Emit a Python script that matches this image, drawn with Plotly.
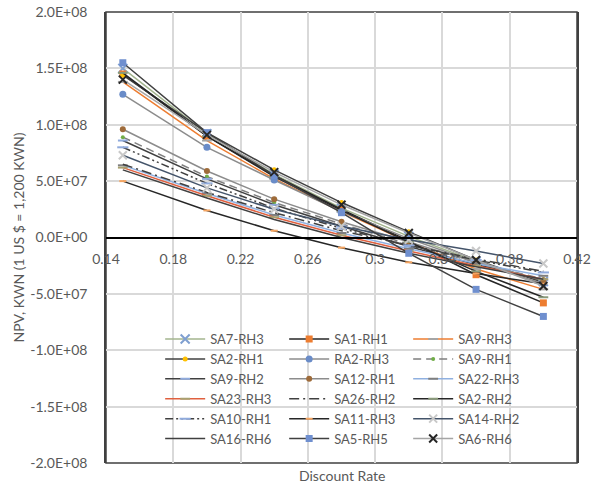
import plotly.graph_objects as go

# Discount rates evaluated for every scenario
rates = [0.15, 0.20, 0.24, 0.28, 0.32, 0.36, 0.40]

# NPV per scenario, in millions of KWN
SCALE = 1e6
sa7_rh3 = [150, 92, 56, 26, 1, -21, -39]
sa1_rh1 = [145, 90, 55, 25, -3, -33, -58]
sa9_rh3 = [138, 86, 52, 23, -4, -28, -46]
sa2_rh1 = [144, 93, 60, 31, 5, -20, -40]
ra2_rh3 = [127, 80, 51, 23, -1, -22, -41]
sa9_rh1 = [89, 54, 31, 12, -6, -22, -37]
sa9_rh2 = [86, 52, 29, 10, -8, -24, -38]
sa12_rh1 = [96, 59, 34, 14, -4, -22, -38]
sa22_rh3 = [64, 39, 20, 4, -10, -23, -34]
sa23_rh3 = [62, 37, 18, 2, -12, -25, -37]
sa26_rh2 = [65, 40, 22, 6, -7, -19, -30]
sa2_rh2 = [146, 90, 54, 24, -4, -30, -53]
sa10_rh1 = [80, 48, 26, 8, -7, -20, -31]
sa11_rh3 = [50, 24, 6, -9, -22, -32, -41]
sa14_rh2 = [73, 44, 25, 10, -2, -12, -23]
sa16_rh6 = [60, 35, 16, 0, -14, -26, -37]
sa5_rh5 = [155, 93, 55, 22, -14, -46, -70]
sa6_rh6 = [140, 91, 58, 29, 4, -20, -43]

# Axis ticks
y_ticks = [2e8, 1.5e8, 1e8, 5e7, 0, -5e7, -1e8, -1.5e8, -2e8]
y_labels = ["2.0E+08", "1.5E+08", "1.0E+08", "5.0E+07", "0.0E+00",
            "-5.0E+07", "-1.0E+08", "-1.5E+08", "-2.0E+08"]
x_ticks = [0.14, 0.18, 0.22, 0.26, 0.30, 0.34, 0.38, 0.42]
x_labels = ["0.14", "0.18", "0.22", "0.26", "0.3", "0.34", "0.38", "0.42"]

DARK = "#404040"
TXT = "#595959"
FONT = "Lato"

# name, values, line colour, dash, marker symbol, marker colour, marker size
series = [
    ("SA7-RH3", sa7_rh3, "#a3b48e", "solid", "x-thin-open", "#7f9fd0", 9),
    ("SA1-RH1", sa1_rh1, "#262626", "solid", "square", "#ed7d31", 7),
    ("SA9-RH3", sa9_rh3, "#ed7d31", "solid", "line-ew-open", "#a5a5a5", 7),
    ("SA2-RH1", sa2_rh1, DARK, "solid", "circle", "#ffc000", 5),
    ("RA2-RH3", ra2_rh3, "#8c8c8c", "solid", "circle", "#6a8cc8", 7),
    ("SA9-RH1", sa9_rh1, "#7f7f7f", "8px,5px", "circle", "#70ad47", 4),
    ("SA9-RH2", sa9_rh2, DARK, "solid", "line-ew-open", "#8faadc", 7),
    ("SA12-RH1", sa12_rh1, "#8c8c8c", "solid", "circle", "#9e6b3a", 6),
    ("SA22-RH3", sa22_rh3, "#8fb0e0", "solid", "line-ew-open", "#7f7f7f", 7),
    ("SA23-RH3", sa23_rh3, "#e0603f", "solid", "line-ew-open", "#a8a070", 7),
    ("SA26-RH2", sa26_rh2, DARK, "10px,4px,2px,4px", None, None, 0),
    ("SA2-RH2", sa2_rh2, "#262626", "solid", "line-ew-open", "#8a9a7a", 7),
    ("SA10-RH1", sa10_rh1, DARK, "8px,3px,2px,3px,2px,3px", "line-ew-open", "#8faadc", 8),
    ("SA11-RH3", sa11_rh3, "#262626", "solid", "line-ew-open", "#f4a460", 5),
    ("SA14-RH2", sa14_rh2, "#44546a", "solid", "x-thin-open", "#c8c8c8", 8),
    ("SA16-RH6", sa16_rh6, DARK, "solid", None, None, 0),
    ("SA5-RH5", sa5_rh5, DARK, "solid", "square", "#6f8fcf", 7),
    ("SA6-RH6", sa6_rh6, "#a5a5a5", "solid", "x-thin-open", "#262626", 8),
]

fig = go.Figure()
for name, vals, lcol, dash, sym, mcol, msize in series:
    y = [v * SCALE for v in vals]
    if sym is None:
        fig.add_trace(go.Scatter(x=rates, y=y, name=name, mode="lines",
                                 line=dict(color=lcol, width=1.5, dash=dash)))
    else:
        marker = dict(symbol=sym, size=msize, color=mcol,
                      line=dict(color=mcol, width=2 if sym.endswith("open") else 0))
        fig.add_trace(go.Scatter(x=rates, y=y, name=name, mode="lines+markers",
                                 line=dict(color=lcol, width=1.5, dash=dash),
                                 marker=marker))

fig.update_layout(
    width=592, height=494,
    margin=dict(l=106, r=15, t=12, b=31, autoexpand=False),
    paper_bgcolor="white", plot_bgcolor="white",
    font=dict(family=FONT, size=14, color=TXT),
    showlegend=True,
    legend=dict(orientation="h", x=0.115, y=0.308, xanchor="left", yanchor="top",
                bgcolor="rgba(0,0,0,0)", font=dict(family=FONT, size=13, color=TXT),
                itemwidth=40, entrywidth=69, entrywidthmode="pixels",
                tracegroupgap=0, itemclick=False),
    xaxis=dict(range=[0.14, 0.42], tickvals=x_ticks, ticktext=x_labels,
               showgrid=True, gridcolor="#d9d9d9", gridwidth=1.5,
               anchor="free", position=0.5, showline=True, linecolor="black",
               linewidth=1.5, ticks="", ticklabelstandoff=9,
               zeroline=False, automargin=False),
    yaxis=dict(range=[-2e8, 2e8], tickvals=y_ticks, ticktext=y_labels,
               showgrid=True, gridcolor="#d9d9d9", gridwidth=1.5,
               showline=True, linecolor=DARK, linewidth=1.5, mirror=True,
               ticks="", ticklabelstandoff=14, zeroline=False, automargin=False,
               title=dict(text="NPV, KWN (1 US $ = 1,200 KWN)", standoff=2,
                          font=dict(family=FONT, size=14, color=TXT))),
    shapes=[dict(type="rect", xref="paper", yref="paper", x0=0, x1=1, y0=0, y1=1,
                 line=dict(color=DARK, width=1.5), layer="below")],
    annotations=[dict(text="Discount Rate", xref="paper", yref="paper",
                      x=0.5, y=-0.004, xanchor="center", yanchor="top",
                      showarrow=False, font=dict(family=FONT, size=14, color=TXT))],
)

fig.write_html("out.html")
